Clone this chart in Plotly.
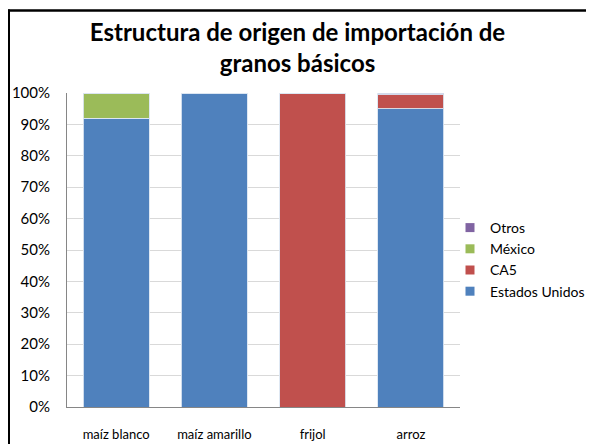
import plotly.graph_objects as go

categories = ["maíz blanco", "maíz amarillo", "frijol", "arroz"]
estados_unidos = [92, 100, 0, 95]
ca5 = [0, 0, 100, 4.5]
mexico = [8, 0, 0, 0]
otros = [0, 0, 0, 0.5]

series = [
    ("Estados Unidos", estados_unidos, "#4F81BD"),
    ("CA5", ca5, "#C0504D"),
    ("México", mexico, "#9BBB59"),
    ("Otros", otros, "#8064A2"),
]

fig = go.Figure()
for name, vals, color in series:
    fig.add_trace(go.Bar(
        x=categories, y=vals, name=name, showlegend=False,
        marker=dict(color=color, line=dict(color="rgba(220,230,242,0.9)", width=1)),
    ))
# legend entries with solid square swatches
for name, vals, color in series:
    fig.add_trace(go.Scatter(
        x=[None], y=[None], mode="markers", name=name,
        marker=dict(symbol="square", size=9, color=color),
    ))

# page body has an 8px margin: figure origin sits at screen (8, 8)
OFF = 8
L, R, T, B = 67 - OFF, 594 - (460 - OFF), 93 - OFF, 444 - (407 - OFF)
W, H = 594, 444
pw, ph = W - L - R, H - T - B

def px2paper_x(px):  # px in screen coords
    return (px - OFF - L) / pw

def px2paper_y(py):
    return (H - B - (py - OFF)) / ph

font_family = "Lato, 'Open Sans', sans-serif"
fig.update_layout(
    barmode="stack",
    bargap=0.33,
    width=W, height=H,
    margin=dict(l=L, r=R, t=T, b=B, autoexpand=False),
    paper_bgcolor="white",
    plot_bgcolor="white",
    font=dict(family=font_family, size=13, color="black"),
    title=dict(
        text="<b>Estructura de origen de importación de<br>granos básicos</b>",
        x=(297.5 - OFF) / W, xanchor="center", y=1 - 33 / H, yanchor="top",
        font=dict(size=24, family=font_family, color="black"),
    ),
    legend=dict(
        traceorder="reversed",
        x=px2paper_x(450), xanchor="left", y=px2paper_y(212), yanchor="top",
        font=dict(size=14, family=font_family),
        itemwidth=30, tracegroupgap=0,
        bgcolor="rgba(0,0,0,0)",
    ),
    showlegend=True,
)
fig.update_yaxes(
    range=[0, 100], dtick=10, ticksuffix="%",
    showgrid=True, gridcolor="#D9D9D9", gridwidth=1,
    showline=True, linecolor="#868686", linewidth=1,
    ticks="", zeroline=False, automargin=False,
    tickfont=dict(size=15), ticklabelstandoff=13,
)
fig.update_xaxes(
    showline=True, linecolor="#868686", linewidth=1,
    ticks="", tickfont=dict(size=13), automargin=False,
    ticklabelstandoff=15,
)
# chart frame (top and left edges; the rest falls outside the window)
fig.add_shape(type="line", xref="paper", yref="paper",
              x0=px2paper_x(OFF), x1=px2paper_x(OFF + W),
              y0=px2paper_y(OFF + 2.5), y1=px2paper_y(OFF + 2.5),
              line=dict(color="black", width=2.5), layer="above")
fig.add_shape(type="line", xref="paper", yref="paper",
              x0=px2paper_x(OFF + 1), x1=px2paper_x(OFF + 1),
              y0=px2paper_y(OFF + 1.5), y1=px2paper_y(OFF + H),
              line=dict(color="black", width=2), layer="above")

fig.write_html("out.html")
